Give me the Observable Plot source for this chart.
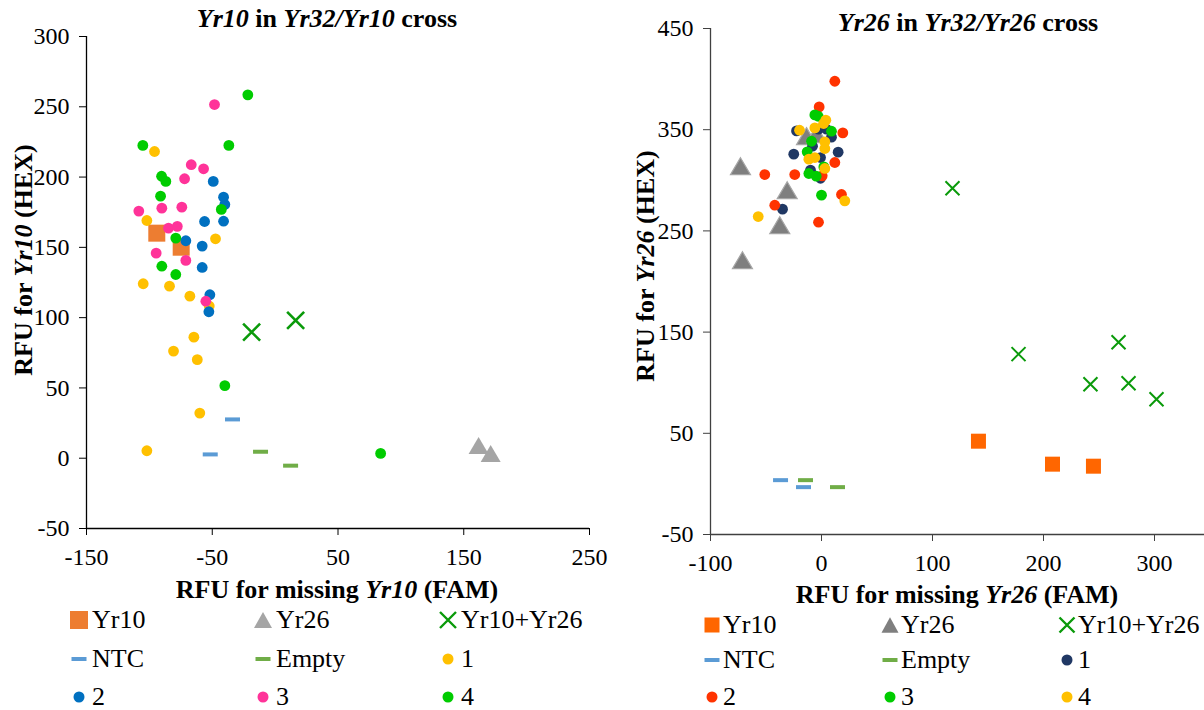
<!DOCTYPE html>
<html><head><meta charset="utf-8">
<script src="https://cdn.jsdelivr.net/npm/d3@7"></script>
<script src="https://cdn.jsdelivr.net/npm/@observablehq/plot@0.6"></script>
<style>
html,body{margin:0;padding:0;width:1204px;height:710px;overflow:hidden;background:#fff;font-family:"Liberation Serif","Times New Roman",serif;color:#000;}
#root{position:relative;width:1204px;height:710px;overflow:hidden;}
.abs{position:absolute;}
.title{font-weight:bold;font-size:26px;white-space:nowrap;transform:translate(-50%,-50%);line-height:1;}
.ylab{font-weight:bold;font-size:26px;white-space:nowrap;transform:translate(-50%,-50%) rotate(-90deg);line-height:1;}
.legtxt{font-size:26px;white-space:nowrap;transform:translateY(-50%);line-height:1;}
</style></head>
<body><div id="root"></div>
<script>
// ---------- Left panel data (Yr10 in Yr32/Yr10 cross) ----------
const L_xTicks = [-150, -50, 50, 150, 250];
const L_yTicks = [-50, 0, 50, 100, 150, 200, 250, 300];
const L_yr10 = [[-94.1,160.1],[-74.7,150.1]];
const L_yr26 = [[161.8,9.1],[171.4,3.4]];
const L_both = [[-18.7,89.7],[16.3,98.0]];
const L_ntc = [[-33.9,27.6],[-51.6,2.7]];
const L_empty = [[-11.6,4.6],[12.3,-5.3]];
const L_s1 = [[-95.9,218.2],[-102,169.1],[-47.4,156.1],[-104.9,124.1],[-84,122.4],[-67.8,115.3],[-52.4,108.2],[-64.6,86.1],[-80.8,76.2],[-61.9,70.1],[-59.9,32.1],[-102,5.3]];
const L_s2 = [[-49.2,196.9],[-41,185.7],[-40,180.5],[-56.1,168.4],[-41,168.6],[-71,154.7],[-58,150.9],[-58,135.7],[-51.9,116.3],[-52.7,104.2]];
const L_s3 = [[-48.2,251.6],[-66.7,208.8],[-56.9,205.9],[-72,198.8],[-108.4,175.8],[-90.1,177.9],[-74.2,178.6],[-84.8,163.7],[-77.8,164.9],[-94.6,145.9],[-71,140.7],[-55.1,111.7]];
const L_s4 = [[-21.7,258.5],[-105.2,222.5],[-36.8,222.5],[-90.3,200.6],[-86.9,196.9],[-91.1,186.4],[-42.8,177],[-79,156.6],[-90.1,136.6],[-79,130.7],[-40,51.6],[83.9,3.4]];

// ---------- Right panel data (Yr26 in Yr32/Yr26 cross) ----------
const R_xTicks = [-100, 0, 100, 200, 300];
const R_yTicks = [-50, 50, 150, 250, 350, 450];
const R_yr10 = [[141.4,42.2],[208.1,19.5],[245,17.5]];
const R_yr26 = [[-73,313.9],[-30.9,290.2],[-37.6,255.6],[-71.2,221],[-13.5,343.6],[-4.5,345.6]];
const R_both = [[118,292.2],[177.5,128.2],[242.3,98.5],[267.6,140],[276.6,99.5],[301.8,83.7]];
const R_ntc = [[-36.9,3.7],[-16.2,-3.2]];
const R_empty = [[-14.4,3.7],[14.4,-3.2]];
const R_s1 = [[-22.5,348.8],[-25,325.8],[15,327.8],[-0.9,322.5],[-35.1,271.5],[-2.7,350.5],[-8.1,333.7],[-9.9,310],[-0.9,302],[4.5,350.5],[9,342.6]];
const R_s2 = [[12,397.9],[-2.1,372.5],[19.2,346.8],[12,317.6],[-51.1,305.7],[-24.1,305.7],[0.6,304.4],[18,286],[-42.1,275.4],[-2.7,258.6]];
const R_s3 = [[-6,364.6],[-3,363.3],[9,348.5],[-9,338.6],[-12.9,328.1],[2.1,313.2],[-11.4,306.7],[-4.8,304.1],[0,285.3]];
const R_s4 = [[3.9,359.4],[1.9,356.1],[-19.8,349.5],[-6,351.8],[3,338],[3,331.4],[-11.4,320.9],[-6,322.5],[3,311.7],[21,279.7],[-57,264.2]];

const legendLabels = ["Yr10","Yr26","Yr10+Yr26","NTC","Empty","1","2","3","4"];

// ---------- symbols ----------
const sqSym = s => ({draw(c){c.rect(-s/2,-s/2,s,s);}});
const triSym = (w,h) => ({draw(c){c.moveTo(0,-h/2);c.lineTo(w/2,h/2);c.lineTo(-w/2,h/2);c.closePath();}});
const xSym = w => ({draw(c){c.moveTo(-w/2,-w/2);c.lineTo(w/2,w/2);c.moveTo(w/2,-w/2);c.lineTo(-w/2,w/2);}});
const dashSym = (w,h) => ({draw(c){c.rect(-w/2,-h/2,w,h);}});

function dots(data, o){
  return Plot.dot(data, {x: d=>d[0], y: d=>d[1], symbol: o.sym, r: o.r ?? 6, fill: o.fill ?? "none", stroke: o.stroke ?? "none", strokeWidth: o.sw ?? 1});
}

const FONT = '"Liberation Serif","Times New Roman",serif';

function panel(cfg){
  return Plot.plot({
    width: cfg.width, height: cfg.height,
    marginLeft: cfg.ml, marginRight: cfg.mr, marginTop: cfg.mt, marginBottom: cfg.mb,
    x: {domain: cfg.xd}, y: {domain: cfg.yd},
    style: {fontFamily: FONT, fontSize: "24px", color: "#000", background: "transparent", overflow: "visible"},
    marks: [
      Plot.ruleX([cfg.xd[0]], {stroke: cfg.axisColor, strokeWidth: 1.3}),
      Plot.ruleY([cfg.yd[0]], {stroke: cfg.axisColor, strokeWidth: 1.3}),
      Plot.axisX({ticks: cfg.xt, tickSize: 7, tickPadding: 12, label: null, tickFormat: d => String(d), stroke: cfg.axisColor, fill: "#000"}),
      Plot.axisY({ticks: cfg.yt, tickSize: 7, tickPadding: 10, label: null, tickFormat: d => String(d), stroke: cfg.axisColor, fill: "#000"}),
      ...cfg.marks
    ]
  });
}

const root = document.getElementById("root");

// Left panel
const leftPlot = panel({
  width: 600, height: 580, ml: 86, mr: 11, mt: 36, mb: 52,
  xd: [-150, 250], yd: [-50, 300], xt: L_xTicks, yt: L_yTicks, axisColor: "#000",
  marks: [
    dots(L_yr10, {sym: sqSym(17), fill: "#ED7D31"}),
    dots(L_yr26, {sym: triSym(20,17), fill: "#A5A5A5"}),
    dots(L_both, {sym: xSym(17), stroke: "#0A9A0A", sw: 2.6}),
    dots(L_ntc, {sym: dashSym(15,4), fill: "#5B9BD5"}),
    dots(L_empty, {sym: dashSym(15,4), fill: "#70AD47"}),
    dots(L_s1, {sym: "circle", r: 5.4, fill: "#FFC000"}),
    dots(L_s2, {sym: "circle", r: 5.4, fill: "#0070C0"}),
    dots(L_s3, {sym: "circle", r: 5.4, fill: "#FF3399"}),
    dots(L_s4, {sym: "circle", r: 5.4, fill: "#00CC00"})
  ]
});
leftPlot.style.position = "absolute"; leftPlot.style.left = "0px"; leftPlot.style.top = "0px";
root.appendChild(leftPlot);

// Right panel
const rightPlot = panel({
  width: 620, height: 580, ml: 110, mr: 10.5, mt: 28, mb: 46,
  xd: [-100, 350], yd: [-50, 450], xt: R_xTicks, yt: R_yTicks, axisColor: "#404040",
  marks: [
    dots(R_yr10, {sym: sqSym(15), fill: "#FF6600"}),
    dots(R_yr26, {sym: triSym(20,17), fill: "#7F7F7F", stroke: "#A6A6A6", sw: 1.2}),
    dots(R_both, {sym: xSym(14), stroke: "#0A9A0A", sw: 2}),
    dots(R_ntc, {sym: dashSym(15,4), fill: "#5B9BD5"}),
    dots(R_empty, {sym: dashSym(15,4), fill: "#70AD47"}),
    dots(R_s1, {sym: "circle", r: 5.4, fill: "#203864"}),
    dots(R_s2, {sym: "circle", r: 5.4, fill: "#FF3300"}),
    dots(R_s3, {sym: "circle", r: 5.4, fill: "#00CC00"}),
    dots(R_s4, {sym: "circle", r: 5.4, fill: "#FFC000"})
  ]
});
rightPlot.style.position = "absolute"; rightPlot.style.left = "600px"; rightPlot.style.top = "0px";
root.appendChild(rightPlot);

// Titles and axis labels
function addText(cls, x, y, html){
  const d = document.createElement("div");
  d.className = "abs " + cls; d.style.left = x + "px"; d.style.top = y + "px"; d.innerHTML = html;
  root.appendChild(d);
}
addText("title", 327, 19, "<i>Yr10</i> in <i>Yr32/Yr10</i> cross");
addText("title", 968, 23, "<i>Yr26</i> in <i>Yr32/Yr26</i> cross");
addText("title", 337, 590, "RFU for missing <i>Yr10</i> (FAM)");
addText("title", 957, 595, "RFU for missing <i>Yr26</i> (FAM)");
addText("ylab", 24, 260, "RFU for <i>Yr10</i> (HEX)");
addText("ylab", 646, 266, "RFU for <i>Yr26</i> (HEX)");

// Legends
function markerSvg(kind, color, size){
  let inner = "";
  const s = size;
  if (kind === "square") inner = `<rect x="${-s/2}" y="${-s/2}" width="${s}" height="${s}" fill="${color}"/>`;
  else if (kind === "tri") inner = `<path d="M0,${-s*0.45}L${s/2},${s*0.45}L${-s/2},${s*0.45}Z" fill="${color}"/>`;
  else if (kind === "x") inner = `<path d="M${-s/2},${-s/2}L${s/2},${s/2}M${s/2},${-s/2}L${-s/2},${s/2}" stroke="${color}" stroke-width="2.4" fill="none"/>`;
  else if (kind === "dash") inner = `<rect x="${-s/2}" y="-2" width="${s}" height="4" fill="${color}"/>`;
  else inner = `<circle r="${s/2}" fill="${color}"/>`;
  return inner;
}
function legend(items, cols, rows, mOff, tOff){
  items.forEach((it, i) => {
    const cx = cols[i % 3], cy = rows[Math.floor(i / 3)];
    const svg = document.createElementNS("http://www.w3.org/2000/svg", "svg");
    svg.setAttribute("width", 30); svg.setAttribute("height", 30);
    svg.setAttribute("viewBox", "-15 -15 30 30");
    svg.style.position = "absolute"; svg.style.left = (cx + mOff - 15) + "px"; svg.style.top = (cy - 15) + "px";
    svg.innerHTML = markerSvg(it.kind, it.color, it.size);
    root.appendChild(svg);
    const t = document.createElement("div");
    t.className = "abs legtxt"; t.style.left = (cx + tOff) + "px"; t.style.top = cy + "px";
    t.textContent = it.label;
    root.appendChild(t);
  });
}
const L_legColors = ["#ED7D31","#A5A5A5","#0A9A0A","#5B9BD5","#70AD47","#FFC000","#0070C0","#FF3399","#00CC00"];
const R_legColors = ["#FF6600","#7F7F7F","#0A9A0A","#5B9BD5","#70AD47","#203864","#FF3300","#00CC00","#FFC000"];
const legKinds = ["square","tri","x","dash","dash","dot","dot","dot","dot"];
const L_legSizes = [18,18,16,15,15,11,11,11,11];
const R_legSizes = [15,17,15,15,15,11,11,11,11];
legend(legendLabels.map((l,i)=>({label:l, kind:legKinds[i], color:L_legColors[i], size:L_legSizes[i]})), [70, 254, 439], [620, 659, 697], 9, 22);
legend(legendLabels.map((l,i)=>({label:l, kind:legKinds[i], color:R_legColors[i], size:R_legSizes[i]})), [703, 881, 1058], [625, 660, 697], 9, 20);
</script>
</body></html>
